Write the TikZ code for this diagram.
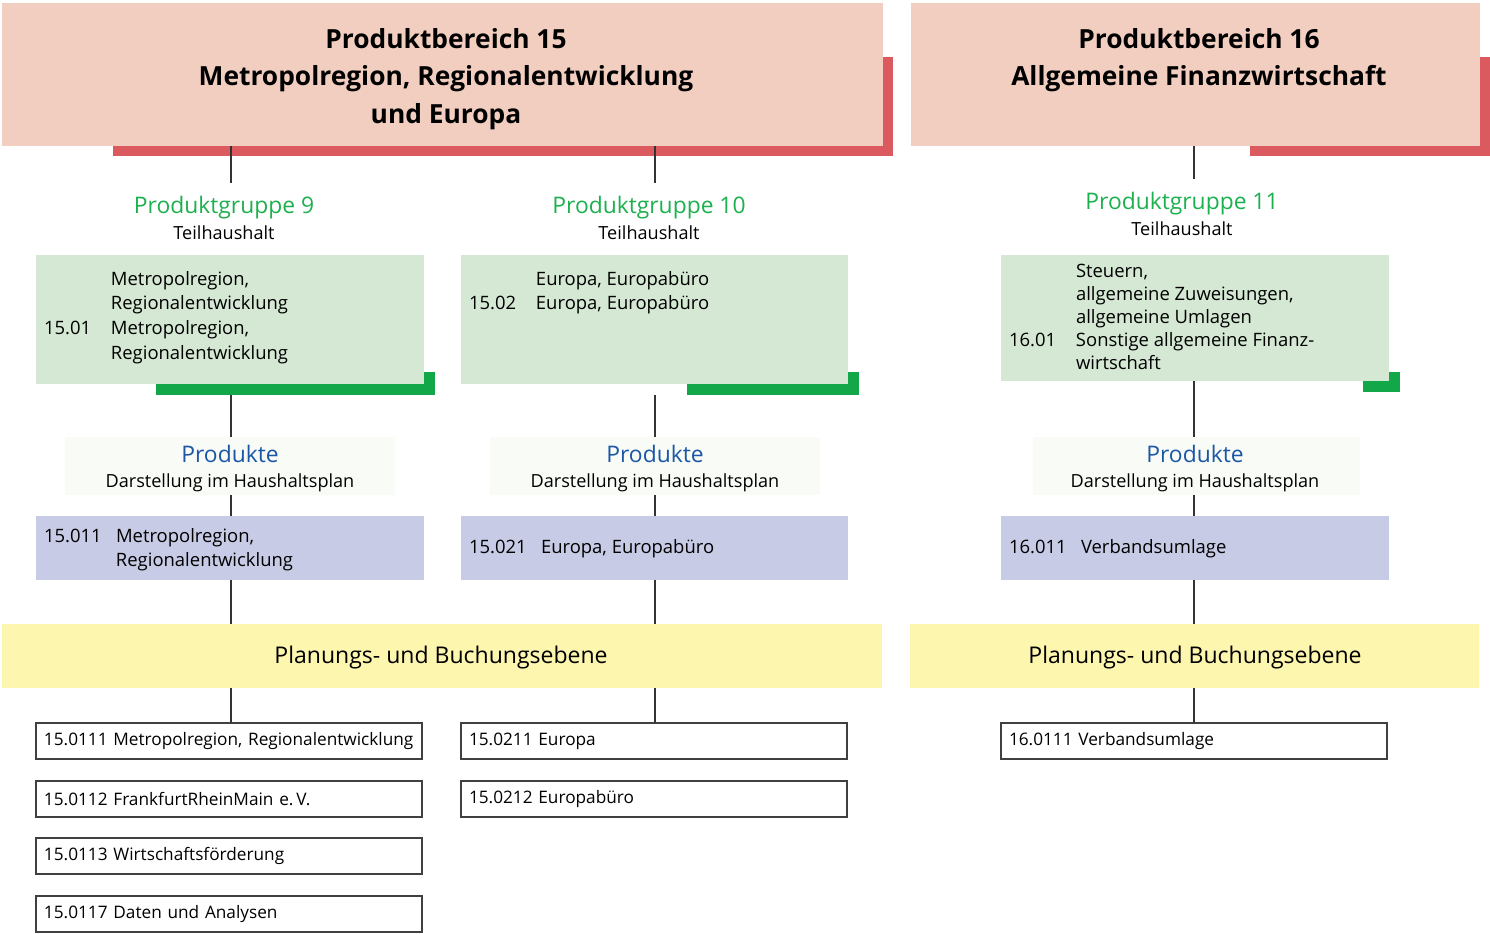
\documentclass[tikz,border=0pt]{standalone}
\usepackage{fontspec}
\setmainfont{Open Sans}
\usetikzlibrary{positioning}
\definecolor{lachs}{HTML}{F2CEC0}
\definecolor{rot}{HTML}{DB5A60}
\definecolor{hgruen}{HTML}{D4E8D4}
\definecolor{gruen}{HTML}{12A84A}
\definecolor{tgruen}{HTML}{1DB04F}
\definecolor{blau}{HTML}{1B57A6}
\definecolor{lila}{HTML}{C8CBE6}
\definecolor{gelb}{HTML}{FDF6AE}
\definecolor{hauch}{HTML}{F8FBF6}

\begin{document}
\begin{tikzpicture}[x=0.02cm,y=-0.02cm,
  every node/.style={inner sep=0pt,outer sep=0pt},
  rechteck/.style n args={2}{anchor=north west,minimum width=#1*0.02cm,minimum height=#2*0.02cm},
  kopf/.style={font=\fontsize{15}{21.6}\selectfont\bfseries},
  gruppe/.style={font=\fontsize{13}{15}\selectfont,text=tgruen,outer ysep=7pt},
  teil/.style={font=\fontsize{10.3}{12}\selectfont},
  inhalt/.style={font=\fontsize{10.5}{#1}\selectfont},
  inhalt/.default=14.2,
  produkt/.style={font=\fontsize{13}{15}\selectfont,text=blau},
  ebene/.style={font=\fontsize{13.1}{16}\selectfont},
  konto/.style={draw=black!75,line width=0.8pt,anchor=north west,minimum height=0.72cm,
    text width=7.4cm,inner xsep=0.16cm,align=left,font=\fontsize{9.8}{11}\selectfont},
  verb/.style={draw=black!80,line width=0.6pt}]
\useasboundingbox (0,0) rectangle (1490,933);

% Produktbereiche
\node[rechteck={780}{99},fill=rot] (s15) at (113,57) {};
\node[rechteck={881}{143},fill=lachs] (h15) at (2,3) {};
\node[rechteck={240}{99},fill=rot] (s16) at (1250,57) {};
\node[rechteck={569}{143},fill=lachs] (h16) at (911,3) {};
\node[kopf,anchor=base] (t15) at (446,48) {\begin{tabular}[t]{@{}c@{}}Produktbereich 15\\Metropolregion, Regionalentwicklung\\und Europa\end{tabular}};
\node[kopf,anchor=base] (t16) at (1199,48) {\begin{tabular}[t]{@{}c@{}}Produktbereich 16\\Allgemeine Finanzwirtschaft\end{tabular}};

% Spalten
\coordinate (sp1) at (231,0);
\coordinate (sp2) at (655,0);
\coordinate (sp3) at (1194,0);

% Produktgruppen
\node[gruppe,anchor=base] (pg9) at (224,213) {Produktgruppe 9};
\node[teil,anchor=base] (th9) at (224,239) {Teilhaushalt};
\node[gruppe,anchor=base] (pg10) at (649,213) {Produktgruppe 10};
\node[teil,anchor=base] (th10) at (649,239) {Teilhaushalt};
\node[gruppe,anchor=base] (pg11) at (1182,209) {Produktgruppe 11};
\node[teil,anchor=base] (th11) at (1182,235) {Teilhaushalt};

\node[rechteck={279}{23},fill=gruen] (s1) at (156,372) {};
\node[rechteck={172}{23},fill=gruen] (s2) at (687,372) {};
\node[rechteck={37}{20},fill=gruen] (s3) at (1363,372) {};
\node[rechteck={388}{129},fill=hgruen] (g1) at (36,255) {};
\node[rechteck={387}{129},fill=hgruen] (g2) at (461,255) {};
\node[rechteck={388}{126},fill=hgruen] (g3) at (1001,255) {};
\node[inhalt,anchor=base west] (n1) at (44,285) {\begin{tabular}[t]{@{}p{1.34cm}@{}l@{}}
  & Metropolregion,\\ & Regionalentwicklung\\ 15.01 & Metropolregion,\\ & Regionalentwicklung\end{tabular}};
\node[inhalt,anchor=base west] (n2) at (469,285) {\begin{tabular}[t]{@{}p{1.34cm}@{}l@{}}
  & Europa, Europabüro\\ 15.02 & Europa, Europabüro\end{tabular}};
\node[inhalt=13.1,anchor=base west] (n3) at (1009,277) {\begin{tabular}[t]{@{}p{1.34cm}@{}l@{}}
  & Steuern,\\ & allgemeine Zuweisungen,\\ & allgemeine Umlagen\\ 16.01 & Sonstige allgemeine Finanz-\\ & wirtschaft\end{tabular}};

% Produkte
\node[rechteck={330}{58},fill=hauch] (p1) at (65,437) {};
\node[rechteck={330}{58},fill=hauch] (p2) at (490,437) {};
\node[rechteck={327}{58},fill=hauch] (p3) at (1033,437) {};
\node[produkt,anchor=base] (pt1) at (230,462) {Produkte};
\node[teil,anchor=base] (d1) at (230,487) {Darstellung im Haushaltsplan};
\node[produkt,anchor=base] (pt2) at (655,462) {Produkte};
\node[teil,anchor=base] (d2) at (655,487) {Darstellung im Haushaltsplan};
\node[produkt,anchor=base] (pt3) at (1195,462) {Produkte};
\node[teil,anchor=base] (d3) at (1195,487) {Darstellung im Haushaltsplan};

\node[rechteck={388}{64},fill=lila] (l1) at (36,516) {};
\node[rechteck={387}{64},fill=lila] (l2) at (461,516) {};
\node[rechteck={388}{64},fill=lila] (l3) at (1001,516) {};
\node[inhalt,anchor=base west] (lt1) at (44,542) {\begin{tabular}[t]{@{}p{1.44cm}@{}l@{}}
  15.011 & Metropolregion,\\ & Regionalentwicklung\end{tabular}};
\node[inhalt,anchor=base west] (lt2) at (469,553) {\begin{tabular}[t]{@{}p{1.44cm}@{}l@{}}15.021 & Europa, Europabüro\end{tabular}};
\node[inhalt,anchor=base west] (lt3) at (1009,553) {\begin{tabular}[t]{@{}p{1.44cm}@{}l@{}}16.011 & Verbandsumlage\end{tabular}};

% Planungs- und Buchungsebene
\node[rechteck={880}{64},fill=gelb] (e15) at (2,624) {};
\node[rechteck={569}{64},fill=gelb] (e16) at (910,624) {};
\node[ebene,anchor=base] (et15) at (441,663) {Planungs- und Buchungsebene};
\node[ebene,anchor=base] (et16) at (1195,663) {Planungs- und Buchungsebene};

\node[konto] (k11) at (36,723) {15.0111 Metropolregion, Regionalentwicklung};
\node[konto] (k12) at (36,781) {15.0112 FrankfurtRheinMain e.\,V.};
\node[konto] (k13) at (36,838) {15.0113 Wirtschaftsförderung};
\node[konto] (k17) at (36,896) {15.0117 Daten und Analysen};
\node[konto] (k21) at (461,723) {15.0211 Europa};
\node[konto] (k22) at (461,781) {15.0212 Europabüro};
\node[konto] (k31) at (1001,723) {16.0111 Verbandsumlage};

% Verbindungen
\draw[verb] (h15.south -| sp1) -- (pg9.north -| sp1);
\draw[verb] (h15.south -| sp2) -- (pg10.north -| sp2);
\draw[verb] (h16.south -| sp3) -- (pg11.north -| sp3);
\draw[verb] (s1.south -| sp1) -- (p1.north -| sp1);
\draw[verb] (s2.south -| sp2) -- (p2.north -| sp2);
\draw[verb] (g3.south -| sp3) -- (p3.north -| sp3);
\draw[verb] (p1.south -| sp1) -- (l1.north -| sp1);
\draw[verb] (p2.south -| sp2) -- (l2.north -| sp2);
\draw[verb] (p3.south -| sp3) -- (l3.north -| sp3);
\draw[verb] (l1.south -| sp1) -- (e15.north -| sp1);
\draw[verb] (l2.south -| sp2) -- (e15.north -| sp2);
\draw[verb] (l3.south -| sp3) -- (e16.north -| sp3);
\draw[verb] (e15.south -| sp1) -- (k11.north -| sp1);
\draw[verb] (e15.south -| sp2) -- (k21.north -| sp2);
\draw[verb] (e16.south -| sp3) -- (k31.north -| sp3);
\end{tikzpicture}
\end{document}
